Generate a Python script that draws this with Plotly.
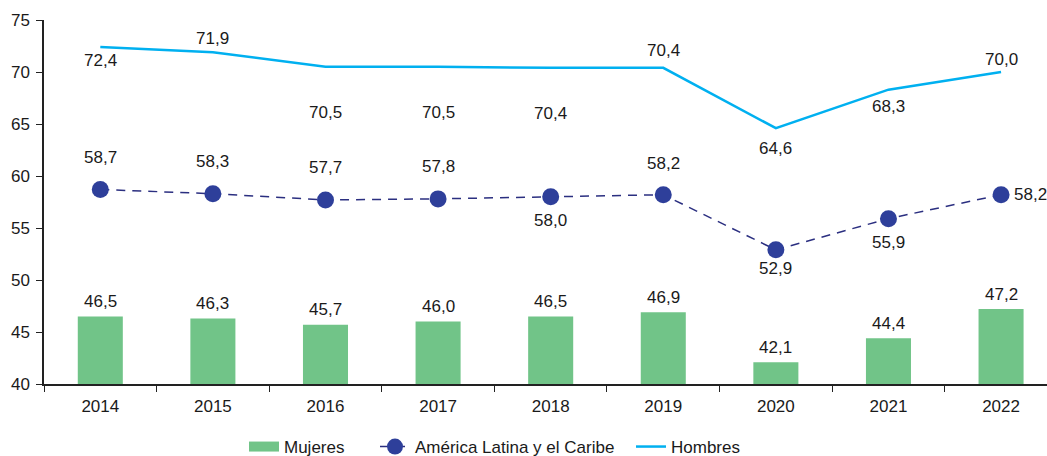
import plotly.graph_objects as go

years = ["2014", "2015", "2016", "2017", "2018", "2019", "2020", "2021", "2022"]
mujeres = [46.5, 46.3, 45.7, 46.0, 46.5, 46.9, 42.1, 44.4, 47.2]
alc = [58.7, 58.3, 57.7, 57.8, 58.0, 58.2, 52.9, 55.9, 58.2]
hombres = [72.4, 71.9, 70.5, 70.5, 70.4, 70.4, 64.6, 68.3, 70.0]

# label offsets (pixels): style only
alc_shift = [(0, 32), (0, 32), (0, 32), (0, 32), (0, -24), (0, 31), (0, -19), (0, -24), (29, 0)]
hom_shift = [(0, -13), (0, 14), (0, -46), (0, -46), (0, -46), (0, 17), (0, -20), (0, -17), (0, 13)]

FONT = "Liberation Sans, Arial, sans-serif"
TXT = "#1a1a1a"
GREEN = "#71C488"
BLUE = "#00B0F0"
NAVY_L = "#2B2F80"
NAVY_M = "#2E3F9A"

W, H = 1047, 456

def fmt(v):
    return f"{v:.1f}".replace(".", ",")

fig = go.Figure()
fig.add_trace(go.Bar(x=years, y=mujeres, name="Mujeres", width=0.4, showlegend=False,
                     marker=dict(color=GREEN, line=dict(width=0))))
# legend swatch for bars (rectangle)
fig.add_trace(go.Scatter(x=[None], y=[None], name="Mujeres", mode="lines",
                         line=dict(color=GREEN, width=16), legend="legend"))
fig.add_trace(go.Scatter(x=years, y=alc, name="América Latina y el Caribe", mode="lines+markers",
                         line=dict(color=NAVY_L, width=1.5, dash="9px,7px"),
                         marker=dict(color=NAVY_M, size=17), legend="legend2"))
fig.add_trace(go.Scatter(x=years, y=hombres, name="Hombres", mode="lines",
                         line=dict(color=BLUE, width=2.5), legend="legend3"))

ann = []
for i, v in enumerate(mujeres):
    ann.append(dict(x=i, y=v, text=fmt(v), showarrow=False, yshift=15, xref="x", yref="y"))
for i, (v, s) in enumerate(zip(alc, alc_shift)):
    ann.append(dict(x=i, y=v, text=fmt(v), showarrow=False, xshift=s[0], yshift=s[1], xref="x", yref="y"))
for i, (v, s) in enumerate(zip(hombres, hom_shift)):
    ann.append(dict(x=i, y=v, text=fmt(v), showarrow=False, xshift=s[0], yshift=s[1], xref="x", yref="y"))

leg_common = dict(orientation="h", xref="container", yref="container",
                  y=1 - 447 / H, yanchor="middle", xanchor="left",
                  font=dict(size=17), bgcolor="rgba(0,0,0,0)", borderwidth=0)

fig.update_layout(
    width=W, height=H,
    margin=dict(l=44, r=0, t=20, b=72, autoexpand=False),
    paper_bgcolor="white", plot_bgcolor="white",
    font=dict(family=FONT, size=17, color=TXT),
    showlegend=True,
    legend=dict(x=244 / W, **leg_common),
    legend2=dict(x=375 / W, **leg_common),
    legend3=dict(x=631 / W, **leg_common),
    annotations=ann,
    bargap=0.6,
)
fig.update_xaxes(type="category", range=[-0.5, 8.408], showline=True, linecolor="#222",
                 linewidth=1.5, ticks="outside", tickson="boundaries", ticklen=6,
                 tickcolor="#222", showgrid=False, zeroline=False, automargin=False,
                 ticklabelstandoff=6)
fig.update_yaxes(range=[40, 75], dtick=5, showline=True, linecolor="#222", linewidth=1.5,
                 ticks="outside", ticklen=6, tickcolor="#222", showgrid=False, zeroline=False,
                 automargin=False, ticklabelstandoff=3)

fig.write_html("out.html", config={"displayModeBar": False},
               post_script="document.body.style.margin='0';document.body.style.overflow='hidden';")
